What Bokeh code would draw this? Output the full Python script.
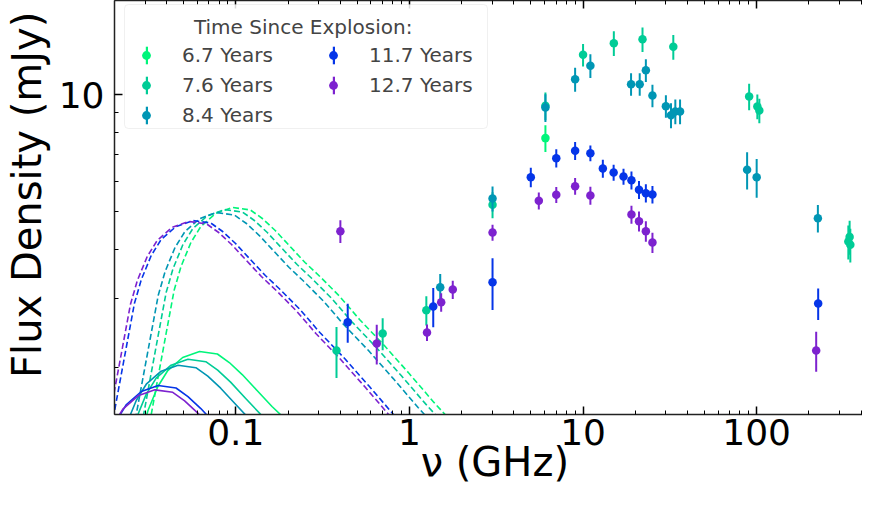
from bokeh.plotting import figure
from bokeh.models import (ColumnDataSource, FixedTicker, LogAxis, Legend,
                          LegendItem, Range1d, BoxAnnotation)
from bokeh.core.properties import value
from bokeh.embed import file_html
from bokeh.resources import INLINE

# ---------------- data ----------------
series_labels = ["6.7 Years", "7.6 Years", "8.4 Years", "11.7 Years", "12.7 Years"]
series_colors = ["#00F57A", "#00CC96", "#0096B4", "#0535E8", "#7D22CF"]

# observed flux densities (GHz, mJy, 1-sigma error)
nu_67 = [6.07]
s_67 = [7.73]
e_67 = [0.61]

nu_76 = [0.380, 0.701, 1.251, 3.01, 6.07, 10.0, 15.04, 22.0, 33.1, 90.5, 100.9, 103.6, 337.3, 343.1, 346.3]
s_76 = [2.206, 2.439, 2.798, 5.215, 9.355, 12.64, 13.54, 13.86, 13.25, 9.88, 9.316, 9.10, 4.198, 4.315, 4.118]
e_76 = [0.33, 0.23, 0.24, 0.40, 0.77, 0.84, 0.98, 1.00, 0.97, 0.77, 0.68, 0.66, 0.42, 0.43, 0.41]

nu_84 = [1.504, 3.01, 6.07, 9.00, 11.02, 18.9, 21.2, 23.0, 25.1, 30.0, 32.1, 34.0, 36.2, 88.1, 100.0, 225.2]
s_84 = [3.205, 5.412, 9.26, 10.94, 11.85, 10.63, 10.63, 11.54, 9.94, 9.333, 8.85, 9.044, 9.044, 6.41, 6.137, 4.818]
e_84 = [0.26, 0.40, 0.76, 0.77, 0.83, 0.71, 0.71, 0.77, 0.66, 0.62, 0.65, 0.66, 0.66, 0.70, 0.70, 0.39]

nu_117 = [0.441, 1.371, 3.01, 5.0, 7.01, 9.0, 11.02, 13.0, 15.0, 17.1, 19.0, 21.0, 23.0, 25.1, 226.1]
s_117 = [2.608, 2.860, 3.302, 6.137, 6.865, 7.172, 7.072, 6.461, 6.31, 6.162, 6.03, 5.697, 5.584, 5.541, 2.912]
e_117 = [0.30, 0.33, 0.50, 0.35, 0.37, 0.38, 0.33, 0.34, 0.30, 0.29, 0.32, 0.30, 0.30, 0.29, 0.27]

nu_127 = [0.400, 0.648, 1.262, 1.523, 1.776, 3.01, 5.56, 7.01, 9.0, 11.02, 19.0, 21.0, 23.0, 25.1, 220.2]
s_127 = [4.46, 2.30, 2.453, 2.934, 3.162, 4.428, 5.339, 5.53, 5.82, 5.508, 4.925, 4.733, 4.462, 4.174, 2.206]
e_127 = [0.30, 0.27, 0.12, 0.16, 0.17, 0.21, 0.27, 0.26, 0.29, 0.29, 0.26, 0.28, 0.27, 0.25, 0.26]

# model curves (dashed)
nu_d67 = [0.03255, 0.03569, 0.03966, 0.04407, 0.04832, 0.05510, 0.06284, 0.07656, 0.09576, 0.1214, 0.1421, 0.1686, 0.2054, 0.2503, 0.3048, 0.3967, 0.5158, 0.7169, 0.9960, 1.384, 1.923]
s_d67 = [1.512, 1.892, 2.440, 3.143, 3.622, 4.174, 4.588, 4.954, 5.132, 5.057, 4.810, 4.481, 4.077, 3.709, 3.415, 3.035, 2.649, 2.272, 1.926, 1.624, 1.384]
nu_d76 = [0.02929, 0.03212, 0.03570, 0.03967, 0.04349, 0.04959, 0.05656, 0.06891, 0.08619, 0.1092, 0.1279, 0.1518, 0.1848, 0.2253, 0.2743, 0.3570, 0.4643, 0.6452, 0.8964, 1.246, 1.731]
s_d76 = [1.494, 1.870, 2.411, 3.106, 3.579, 4.125, 4.534, 4.895, 5.071, 4.997, 4.753, 4.427, 4.028, 3.665, 3.374, 2.999, 2.618, 2.245, 1.903, 1.605, 1.367]
nu_d84 = [0.02636, 0.02891, 0.03213, 0.03570, 0.03914, 0.04463, 0.05091, 0.06202, 0.07757, 0.09830, 0.1151, 0.1366, 0.1664, 0.2028, 0.2469, 0.3213, 0.4179, 0.5808, 0.8068, 1.121, 1.558]
s_d84 = [1.468, 1.837, 2.368, 3.051, 3.516, 4.052, 4.454, 4.809, 4.982, 4.909, 4.669, 4.349, 3.957, 3.601, 3.315, 2.946, 2.572, 2.206, 1.869, 1.576, 1.343]
nu_d117 = [0.01923, 0.02108, 0.02343, 0.02604, 0.02855, 0.03255, 0.03713, 0.04523, 0.05657, 0.07169, 0.08394, 0.09961, 0.1213, 0.1479, 0.1800, 0.2343, 0.3047, 0.4235, 0.5884, 0.8177, 1.136]
s_d117 = [1.400, 1.752, 2.259, 2.911, 3.354, 3.865, 4.248, 4.587, 4.752, 4.683, 4.454, 4.149, 3.775, 3.435, 3.162, 2.810, 2.453, 2.104, 1.783, 1.504, 1.281]
nu_d127 = [0.01824, 0.0200, 0.02223, 0.02470, 0.02708, 0.03088, 0.03522, 0.04291, 0.05367, 0.06801, 0.07963, 0.0945, 0.1151, 0.1403, 0.1708, 0.2223, 0.2891, 0.4018, 0.5582, 0.7757, 1.078]
s_d127 = [1.392, 1.742, 2.246, 2.894, 3.335, 3.843, 4.224, 4.561, 4.725, 4.656, 4.428, 4.125, 3.753, 3.415, 3.144, 2.794, 2.439, 2.092, 1.773, 1.495, 1.274]

# model curves (solid)
nu_m67 = [0.02559, 0.02844, 0.03118, 0.03555, 0.04055, 0.04940, 0.06179, 0.07830, 0.09168, 0.1088, 0.1325, 0.1615, 0.1966, 0.2559]
s_m67 = [1.042, 1.343, 1.548, 1.784, 1.960, 2.117, 2.193, 2.161, 2.055, 1.914, 1.742, 1.585, 1.459, 1.297]
nu_m76 = [0.02194, 0.02438, 0.02673, 0.03048, 0.03476, 0.04235, 0.05297, 0.06713, 0.07860, 0.09327, 0.1136, 0.1385, 0.1686, 0.2194]
s_m76 = [0.9963, 1.284, 1.479, 1.705, 1.874, 2.023, 2.096, 2.065, 1.964, 1.830, 1.665, 1.515, 1.395, 1.239]
nu_m84 = [0.01924, 0.02138, 0.02344, 0.02673, 0.03048, 0.03714, 0.04645, 0.05886, 0.06892, 0.08179, 0.09962, 0.1214, 0.1478, 0.1924]
s_m84 = [0.9615, 1.239, 1.428, 1.645, 1.808, 1.953, 2.023, 1.993, 1.896, 1.766, 1.607, 1.462, 1.346, 1.196]
nu_m117 = [0.01479, 0.01643, 0.01801, 0.02054, 0.02343, 0.02854, 0.03570, 0.04524, 0.05297, 0.06286, 0.07657, 0.09333, 0.1136, 0.1479]
s_m117 = [0.8528, 1.099, 1.266, 1.459, 1.604, 1.732, 1.794, 1.768, 1.681, 1.566, 1.425, 1.297, 1.194, 1.061]
nu_m127 = [0.01416, 0.01573, 0.01724, 0.01966, 0.02243, 0.02733, 0.03418, 0.04331, 0.05071, 0.06018, 0.07330, 0.08934, 0.1088, 0.1416]
s_m127 = [0.8315, 1.071, 1.235, 1.423, 1.564, 1.688, 1.749, 1.724, 1.639, 1.527, 1.389, 1.264, 1.164, 1.034]

x_major = [0.1, 1, 10, 100]
x_major_labels = ["0.1", "1", "10", "100"]
x_minor = [0.02, 0.03, 0.04, 0.05, 0.06, 0.07, 0.08, 0.09,
           0.2, 0.3, 0.4, 0.5, 0.6, 0.7, 0.8, 0.9,
           2, 3, 4, 5, 6, 7, 8, 9,
           20, 30, 40, 50, 60, 70, 80, 90,
           200, 300, 400]
y_major = [10]
y_major_labels = ["10"]
y_minor = [2, 3, 4, 5, 6, 7, 8, 9]

# ---------------- figure ----------------
FONT = "DejaVu Sans"
p = figure(width=862, height=497, x_axis_type="log", y_axis_type="log",
           x_range=Range1d(0.02, 407), y_range=Range1d(1.512, 17.42),
           output_backend="svg", toolbar_location=None,
           min_border_left=108, min_border_right=0, min_border_top=0,
           min_border_bottom=83)
p.grid.visible = False
p.outline_line_color = None
p.background_fill_color = "white"
p.border_fill_color = "white"

def style_axis(ax, ticks, minor, labels):
    ax.ticker = FixedTicker(ticks=ticks, minor_ticks=minor)
    ax.major_label_overrides = {t: l for t, l in zip(ticks, labels)}
    ax.major_tick_in = 8
    ax.major_tick_out = 0
    ax.minor_tick_in = 4
    ax.minor_tick_out = 0
    ax.major_tick_line_width = 1.5
    ax.minor_tick_line_width = 1
    ax.major_tick_line_color = "black"
    ax.minor_tick_line_color = "black"
    ax.axis_line_color = "#222222"
    ax.axis_line_width = 1.5
    ax.major_label_text_font = FONT
    ax.major_label_text_font_size = "36px"
    ax.major_label_text_color = "black"
    ax.axis_label_text_font = FONT
    ax.axis_label_text_font_size = "40px"
    ax.axis_label_text_font_style = "normal"
    ax.axis_label_text_color = "black"

xa = p.xaxis[0]
style_axis(xa, x_major, x_minor, x_major_labels)
xa.axis_label = "\u00a0\u03bd (GHz)"
xa.major_label_standoff = 4
xa.axis_label_standoff = -9

ya = p.yaxis[0]
style_axis(ya, y_major, y_minor, y_major_labels)
ya.axis_label = "\u00a0\u00a0Flux Density (mJy)"
ya.major_label_standoff = 10
ya.axis_label_standoff = 6

top = LogAxis()
style_axis(top, x_major, x_minor, ["", "", "", ""])
top.major_label_text_font_size = "0px"
top.major_label_standoff = 0
p.add_layout(top, "above")

# model curves
dashed = [(nu_d67, s_d67), (nu_d76, s_d76), (nu_d84, s_d84), (nu_d117, s_d117), (nu_d127, s_d127)]
solid = [(nu_m67, s_m67), (nu_m76, s_m76), (nu_m84, s_m84), (nu_m117, s_m117), (nu_m127, s_m127)]
for (xs, ys), c in zip(dashed, series_colors):
    p.line(xs, ys, line_color=c, line_width=1.6, line_dash="6 3")
for (xs, ys), c in zip(solid, series_colors):
    p.line(xs, ys, line_color=c, line_width=1.6)

# observed points with error bars
obs = [(nu_67, s_67, e_67), (nu_76, s_76, e_76), (nu_84, s_84, e_84),
       (nu_117, s_117, e_117), (nu_127, s_127, e_127)]
items_marker = []
items_bar = []
for (xs, ys, es), c, lab in zip(obs, series_colors, series_labels):
    src = ColumnDataSource(dict(x=xs, y=ys,
                                lo=[v - e for v, e in zip(ys, es)],
                                hi=[v + e for v, e in zip(ys, es)]))
    p.segment(x0="x", y0="lo", x1="x", y1="hi", source=src,
              line_color=c, line_width=2)
    pts = p.scatter(x="x", y="y", source=src, marker="circle", size=8.5,
                    fill_color=c, line_color=None)
    # zero-size bars: invisible in the plot, give the vertical legend stroke
    bar = p.vbar(x="x", bottom="y", top="y", width=0, source=src,
                 fill_color=c, line_color=None)
    items_marker.append(LegendItem(label=lab, renderers=[pts]))
    items_bar.append(LegendItem(label=value(""), renderers=[bar]))

# legend frame
p.add_layout(BoxAnnotation(left=10, right=373, bottom=286, top=410,
                           left_units="screen", right_units="screen",
                           top_units="screen", bottom_units="screen",
                           fill_color="white", fill_alpha=0.85,
                           line_color="#cccccc", line_width=1,
                           border_radius=4))

common = dict(ncols=2, label_text_font=FONT, label_text_font_size="20px",
              glyph_height=22, label_height=26, label_width=125, spacing=4,
              padding=6, margin=0, border_line_color=None,
              background_fill_alpha=0)

legend_markers = Legend(items=items_marker, location=(10, 286),
                        glyph_width=44, label_standoff=14,
                        title="\u00a0" * 11 + "Time Since Explosion:",
                        title_text_font=FONT, title_text_font_size="20px",
                        title_text_font_style="normal", title_standoff=3,
                        **common)
legend_bars = Legend(items=items_bar, location=(30.5, 286),
                     glyph_width=3, label_standoff=55, **common)
p.add_layout(legend_markers)
p.add_layout(legend_bars)

open("out.html", "w").write(file_html(p, INLINE))
